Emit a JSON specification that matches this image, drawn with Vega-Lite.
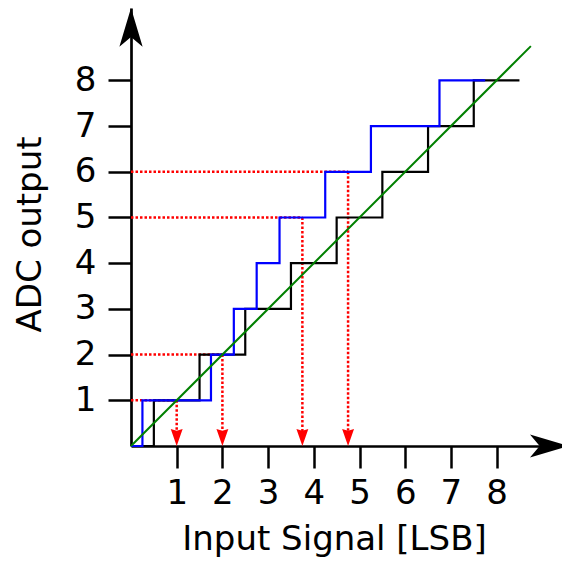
{
  "$schema": "https://vega.github.io/schema/vega-lite/v6.json",
  "autosize": "none",
  "padding": {"left": 131, "top": 8, "right": 0, "bottom": 115},
  "width": 431,
  "height": 438,
  "background": "white",
  "config": {"font": "DejaVu Sans", "view": {"stroke": null}},
  "encoding": {
    "x": {
      "field": "x", "type": "quantitative",
      "scale": {"domain": [0, 9.431], "nice": false, "zero": false},
      "axis": {
        "values": [1, 2, 3, 4, 5, 6, 7, 8], "grid": false,
        "tickSize": 22, "tickWidth": 2.5, "tickColor": "black",
        "domainColor": "black", "domainWidth": 2.7,
        "labelFontSize": 34, "labelColor": "black", "labelPadding": 8,
        "labelFlush": false, "labelOverlap": false, "labelBound": false,
        "title": "Input Signal [LSB]", "titleFontSize": 34, "titleFontWeight": "normal",
        "titleColor": "black", "titleX": 203, "titleY": 103,
        "titleBaseline": "alphabetic", "titleAlign": "center"
      }
    },
    "y": {
      "field": "y", "type": "quantitative",
      "scale": {"domain": [0, 9.584], "nice": false, "zero": false},
      "axis": {
        "values": [1, 2, 3, 4, 5, 6, 7, 8], "grid": false,
        "tickSize": 23, "tickWidth": 2.5, "tickColor": "black",
        "domainColor": "black", "domainWidth": 2.7,
        "labelFontSize": 34, "labelColor": "black", "labelPadding": 12,
        "labelFlush": false, "labelOverlap": false, "labelBound": false,
        "title": "ADC output", "titleFontSize": 34, "titleFontWeight": "normal",
        "titleColor": "black", "titleX": -91, "titleY": 226, "titleAngle": -90,
        "titleBaseline": "alphabetic", "titleAlign": "center"
      }
    }
  },
  "layer": [
    {
      "data": {"values": [
        {"x": 0, "y": 1, "x2": 1, "y2": 1},
        {"x": 0, "y": 2, "x2": 2, "y2": 2},
        {"x": 0, "y": 5, "x2": 3.75, "y2": 5},
        {"x": 0, "y": 6, "x2": 4.75, "y2": 6},
        {"x": 1, "y": 1, "x2": 1, "y2": 0.2},
        {"x": 2, "y": 2, "x2": 2, "y2": 0.2},
        {"x": 3.75, "y": 5, "x2": 3.75, "y2": 0.2},
        {"x": 4.75, "y": 6, "x2": 4.75, "y2": 0.2}
      ]},
      "mark": {"type": "rule", "color": "#ff0000", "strokeWidth": 2.5, "strokeDash": [2.5, 2]},
      "encoding": {"x2": {"field": "x2"}, "y2": {"field": "y2"}}
    },
    {
      "data": {"values": [
        {"x": 1, "y": 0.186}, {"x": 2, "y": 0.186}, {"x": 3.75, "y": 0.186}, {"x": 4.75, "y": 0.186}
      ]},
      "mark": {"type": "point", "filled": true, "opacity": 1, "color": "#ff0000", "strokeWidth": 0,
               "shape": "M0,1L-0.7,-1L0,-0.8L0.7,-1Z", "size": 289},
      "encoding": {}
    },
    {
      "data": {"values": [
        {"x": 0, "y": 0}, {"x": 0.5, "y": 1}, {"x": 1.5, "y": 2}, {"x": 2.5, "y": 3},
        {"x": 3.5, "y": 4}, {"x": 4.5, "y": 5}, {"x": 5.5, "y": 6}, {"x": 6.5, "y": 7},
        {"x": 7.5, "y": 8}, {"x": 8.5, "y": 8}
      ]},
      "mark": {"type": "line", "interpolate": "step-after", "color": "black", "strokeWidth": 2.2},
      "encoding": {}
    },
    {
      "data": {"values": [
        {"x": 0, "y": 0}, {"x": 0.25, "y": 1}, {"x": 1.75, "y": 2}, {"x": 2.25, "y": 3},
        {"x": 2.75, "y": 4}, {"x": 3.25, "y": 5}, {"x": 4.25, "y": 6}, {"x": 5.25, "y": 7},
        {"x": 6.75, "y": 8}, {"x": 7.75, "y": 8}
      ]},
      "mark": {"type": "line", "interpolate": "step-after", "color": "#0000ff", "strokeWidth": 2.2},
      "encoding": {}
    },
    {
      "data": {"values": [{"x": 0, "y": 0}, {"x": 8.75, "y": 8.75}]},
      "mark": {"type": "line", "color": "#008000", "strokeWidth": 2},
      "encoding": {}
    },
    {
      "data": {"values": [{"x": 0, "y": 9.16}]},
      "mark": {"type": "point", "filled": true, "opacity": 1, "color": "black", "strokeWidth": 0,
               "shape": "M0,-1L0.6,1L0,0.5L-0.6,1Z", "size": 1498},
      "encoding": {}
    },
    {
      "data": {"values": [{"x": 9.154, "y": 0}]},
      "mark": {"type": "point", "filled": true, "opacity": 1, "color": "black", "strokeWidth": 0,
               "shape": "M1,0L-1,0.6L-0.5,0L-1,-0.6Z", "size": 1498},
      "encoding": {}
    }
  ]
}
